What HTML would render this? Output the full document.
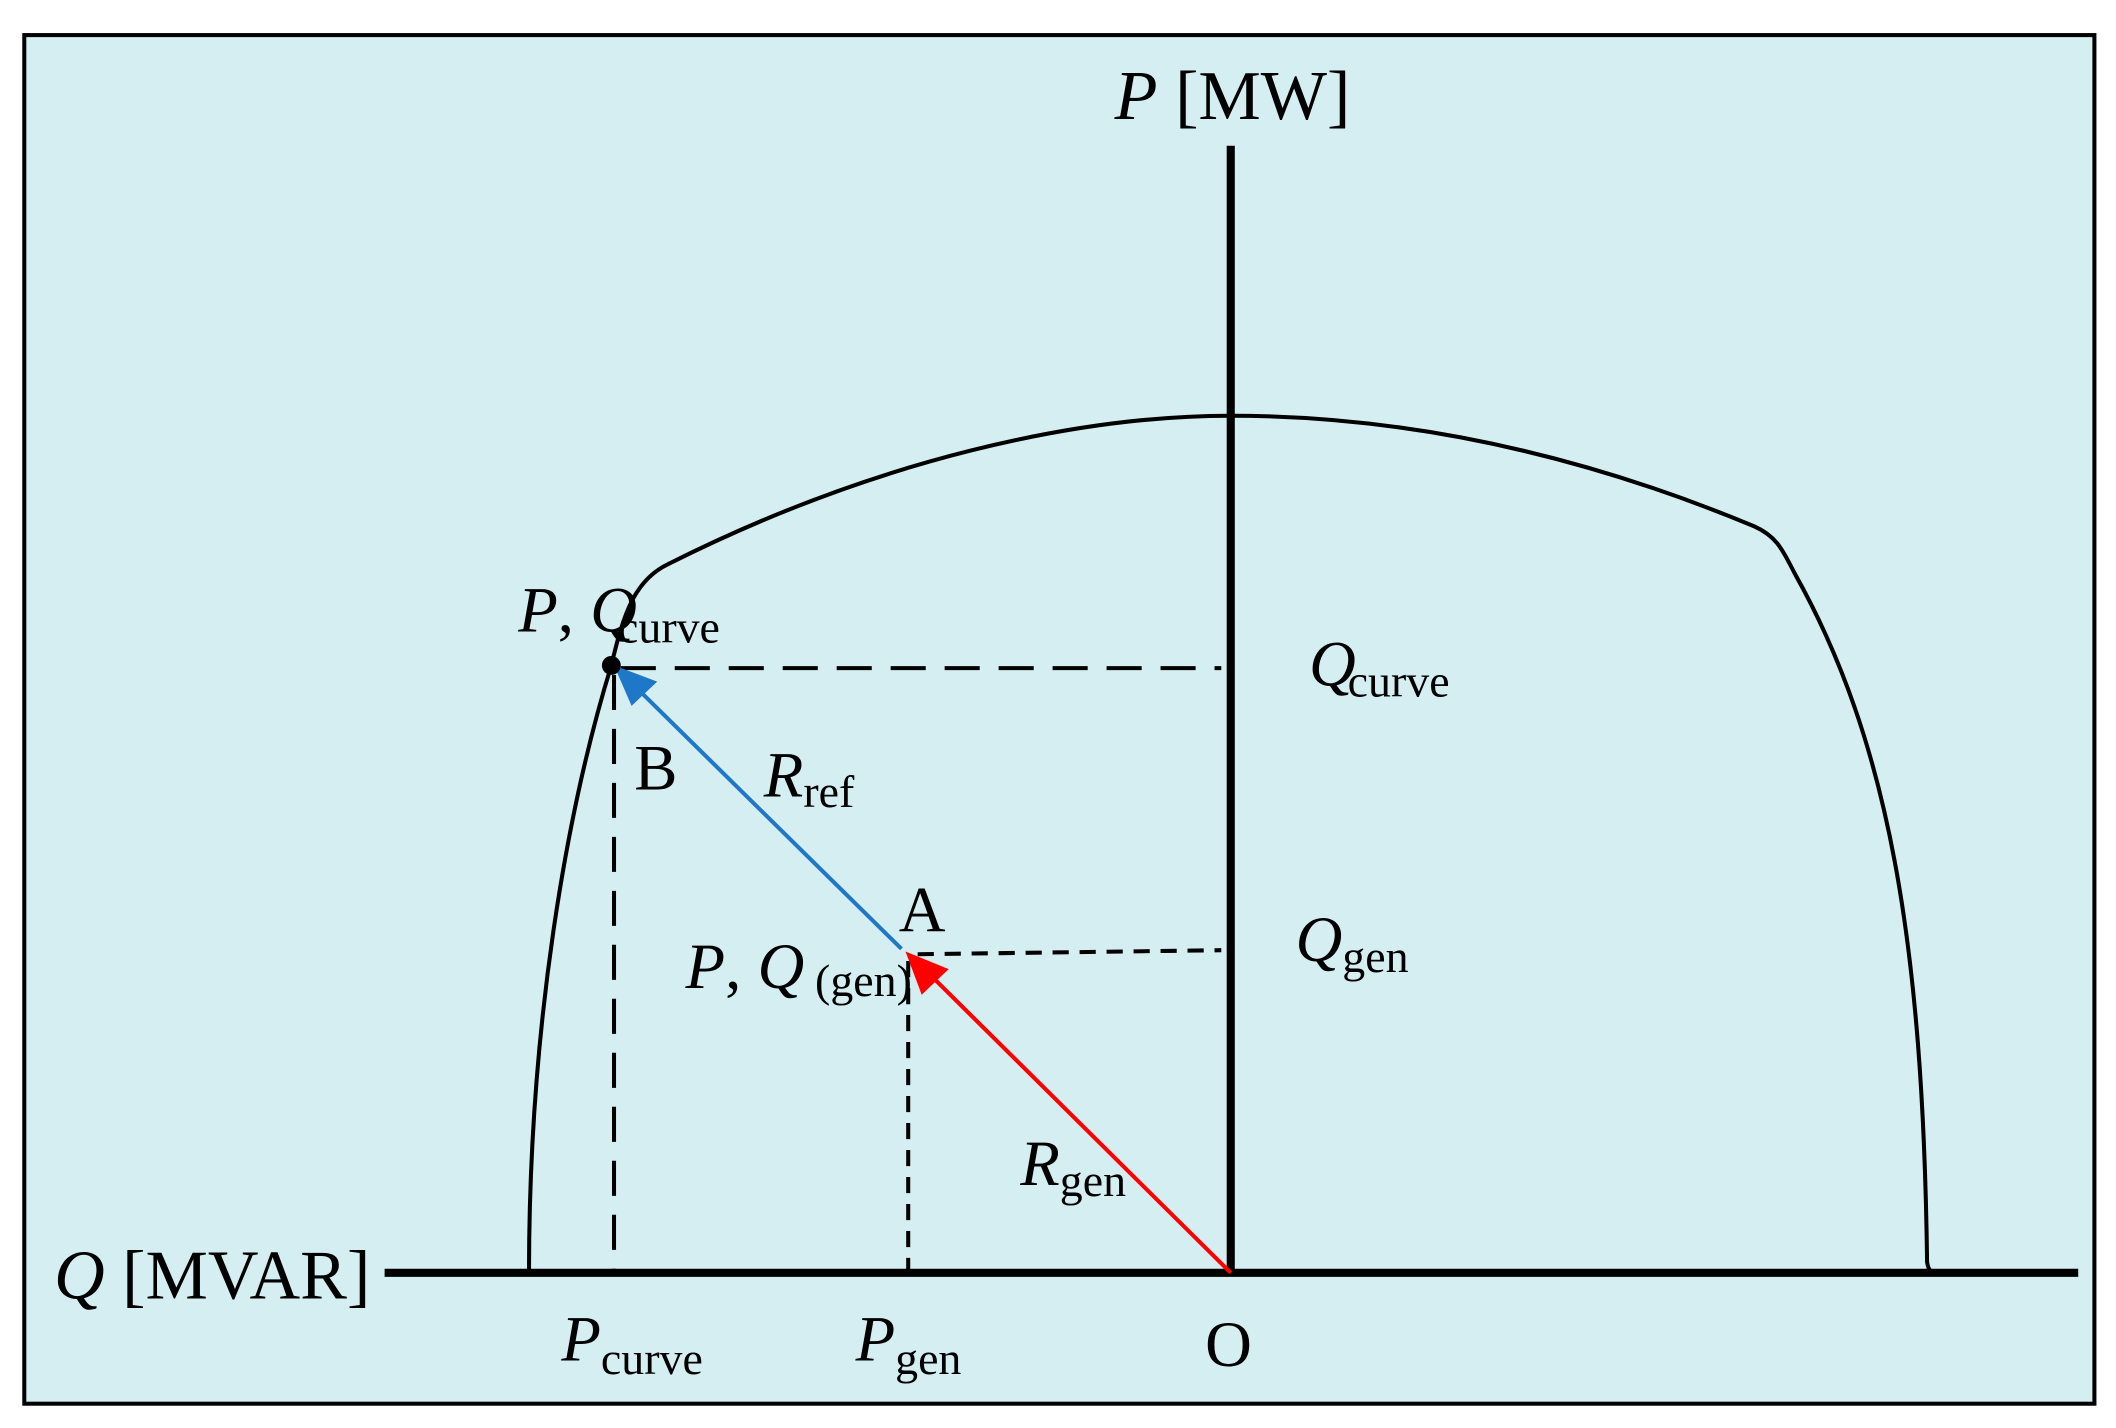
<!DOCTYPE html>
<html><head><style>html,body{margin:0;padding:0;background:#fff}svg{display:block}</style></head><body>
<svg width="2116" height="1428" viewBox="0 0 1568 1058" preserveAspectRatio="none" xmlns="http://www.w3.org/2000/svg" font-family="Liberation Serif, serif">
<rect x="18" y="26" width="1534" height="1014" fill="#d5eef2" stroke="#000" stroke-width="3"/>
<line x1="285" y1="943" x2="1540" y2="943" stroke="#000" stroke-width="6"/>
<line x1="912" y1="108" x2="912" y2="943" stroke="#000" stroke-width="6"/>
<path d="M392,943 C392,760 420,600 453,493 C462,455 470,430 495,418 C650,340 800,308 912,308 C1050,308 1180,340 1300,390 C1318,398 1322,410 1330,425 C1400,550 1425,700 1428,935 Q1429,942 1433,943" fill="none" stroke="#000" stroke-width="3"/>
<line x1="460" y1="495" x2="905" y2="495" stroke="#000" stroke-width="3" stroke-dasharray="26,14"/>
<line x1="455" y1="500" x2="455" y2="943" stroke="#000" stroke-width="3" stroke-dasharray="26,14"/>
<line x1="680" y1="707" x2="905" y2="704" stroke="#000" stroke-width="3" stroke-dasharray="12,8"/>
<line x1="673" y1="712" x2="673" y2="943" stroke="#000" stroke-width="3" stroke-dasharray="12,8"/>
<line x1="668" y1="703" x2="465" y2="503" stroke="#1f77c8" stroke-width="3"/>
<polygon points="455,493 487,505 468,523" fill="#1f77c8"/>
<line x1="912" y1="943" x2="685" y2="718" stroke="#f00" stroke-width="3"/>
<polygon points="671,705 703,718 683,737" fill="#f00"/>
<circle cx="453" cy="493" r="7" fill="#000"/>
<g font-size="48" fill="#000">
<text x="826" y="88" font-size="52"><tspan font-style="italic">P</tspan> [MW]</text>
<text x="40" y="962" font-size="52"><tspan font-style="italic">Q</tspan> [MVAR]</text>
<text x="384" y="468"><tspan font-style="italic">P</tspan>, <tspan font-style="italic">Q</tspan><tspan font-size="34" dx="-14" dy="8">curve</tspan></text>
<text x="970" y="508"><tspan font-style="italic">Q</tspan><tspan font-size="34" dx="-6" dy="8">curve</tspan></text>
<text x="470" y="585">B</text>
<text x="566" y="590"><tspan font-style="italic">R</tspan><tspan font-size="34" dy="8">ref</tspan></text>
<text x="666" y="690">A</text>
<text x="508" y="732"><tspan font-style="italic">P</tspan>, <tspan font-style="italic">Q</tspan><tspan font-size="34" dx="8" dy="6">(gen)</tspan></text>
<text x="960" y="712"><tspan font-style="italic">Q</tspan><tspan font-size="34" dy="8">gen</tspan></text>
<text x="756" y="878"><tspan font-style="italic">R</tspan><tspan font-size="34" dy="8">gen</tspan></text>
<text x="416" y="1008"><tspan font-style="italic">P</tspan><tspan font-size="34" dy="10">curve</tspan></text>
<text x="634" y="1008"><tspan font-style="italic">P</tspan><tspan font-size="34" dy="10">gen</tspan></text>
<text x="893" y="1012">O</text>
</g>
</svg>
</body></html>
